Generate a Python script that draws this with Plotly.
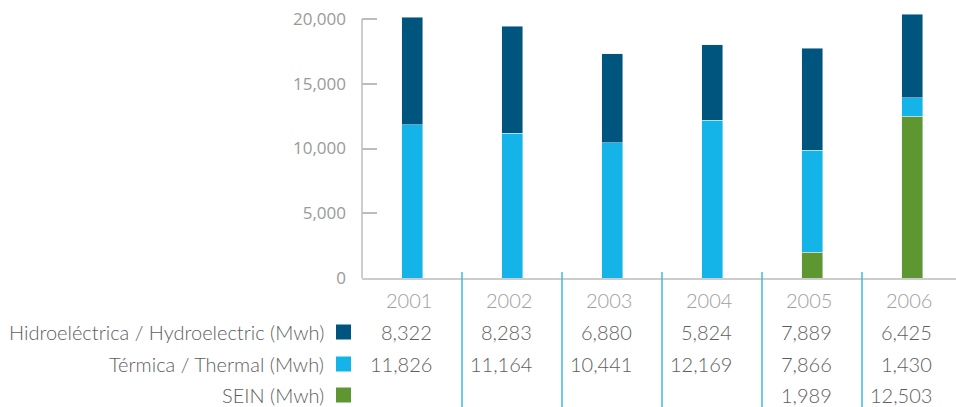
import plotly.graph_objects as go

# Generation by source, MWh
years = ["2001", "2002", "2003", "2004", "2005", "2006"]
hydro = [8322, 8283, 6880, 5824, 7889, 6425]
thermal = [11826, 11164, 10441, 12169, 7866, 1430]
sein = [None, None, None, None, 1989, 12503]

series_names = [
    "Hidroeléctrica / Hydroelectric (Mwh)",
    "Térmica / Thermal (Mwh)",
    "SEIN (Mwh)",
]
y_ticks = [0, 5000, 10000, 15000, 20000]

C_HYDRO = "#00557f"
C_THERMAL = "#14b4e8"
C_SEIN = "#5e9732"
C_SEP = "#3fb8e8"

W, H = 956, 407
L, R = 362, 0
BASE_Y = 278          # pixel row of the zero line
TOP_TICK_Y = 19       # pixel row of the 20,000 tick
T = 11
B = H - BASE_Y
plot_w = W - L - R
plot_h = H - T - B
px_per_unit = (BASE_Y - TOP_TICK_Y) / y_ticks[-1]
y_max = plot_h / px_per_unit


def py(pix):
    """Pixel row -> paper y."""
    return (BASE_Y - pix) / plot_h


def px(pix):
    """Pixel column -> paper x."""
    return (pix - L) / plot_w


fig = go.Figure()
bar_w = 0.21
fig.add_bar(x=years, y=[v if v else 0 for v in sein], marker_color=C_SEIN,
            width=bar_w, name=series_names[2])
fig.add_bar(x=years, y=thermal, marker_color=C_THERMAL, width=bar_w,
            name=series_names[1])
fig.add_bar(x=years, y=hydro, marker_color=C_HYDRO, width=bar_w,
            name=series_names[0])

shapes = []
# y axis line ending at the top tick
shapes.append(dict(type="line", xref="paper", yref="y", x0=0, x1=0,
                   y0=0, y1=y_ticks[-1], line=dict(color="#bdbdbd", width=1.5)))
# column separators running down through the table
for i in range(1, len(years)):
    shapes.append(dict(type="line", xref="x", yref="paper", x0=i - 0.5, x1=i - 0.5,
                       y0=py(272), y1=py(H + 2), line=dict(color=C_SEP, width=1.5)))

row_y = {"year": 300, "hydro": 332, "thermal": 364, "sein": 395}
rows = [("hydro", hydro, C_HYDRO, series_names[0]),
        ("thermal", thermal, C_THERMAL, series_names[1]),
        ("sein", sein, C_SEIN, series_names[2])]

annotations = []
TABLE_FONT = "Lato, 'Open Sans', sans-serif"
FS = 20
for i, yr in enumerate(years):
    annotations.append(dict(x=i, xref="x", y=py(row_y["year"]), yref="paper",
                            text=yr, showarrow=False, xanchor="right", yanchor="middle",
                            xshift=22, font=dict(family=TABLE_FONT, size=FS, weight=300,
                                                 color="#9e9e9e")))

for key, vals, color, label in rows:
    yc = row_y[key]
    annotations.append(dict(x=px(326), xref="paper", y=py(yc), yref="paper",
                            text=label, showarrow=False, xanchor="right", yanchor="middle",
                            font=dict(family=TABLE_FONT, size=FS, weight=300,
                                      color="#5e5e5e")))
    shapes.append(dict(type="rect", xref="paper", yref="paper",
                       x0=px(336), x1=px(351), y0=py(yc - 7.5), y1=py(yc + 7.5),
                       fillcolor=color, line=dict(width=0)))
    for i, v in enumerate(vals):
        if v is None:
            continue
        annotations.append(dict(x=i, xref="x", y=py(yc), yref="paper",
                                text=f"{v:,}", showarrow=False, xanchor="right",
                                yanchor="middle", xshift=22,
                                font=dict(family=TABLE_FONT, size=FS, weight=300,
                                          color="#5e5e5e")))

fig.update_layout(
    width=W, height=H,
    margin=dict(l=L, r=R, t=T, b=B, pad=0),
    barmode="stack",
    showlegend=False,
    plot_bgcolor="white",
    paper_bgcolor="white",
    shapes=shapes,
    annotations=annotations,
    xaxis=dict(type="category", range=[-0.5, -0.5 + plot_w / 100],
               showticklabels=False, ticks="",
               showgrid=False, zeroline=False, showline=True,
               linecolor="#cccccc", linewidth=2, fixedrange=True),
    yaxis=dict(range=[0, y_max], tickvals=y_ticks, tickformat=",d",
               ticks="inside", ticklen=15, tickcolor="#bdbdbd", tickwidth=1.5,
               showgrid=False, zeroline=False, showline=False,
               tickfont=dict(family="'Open Sans', sans-serif", size=17, color="#9a9a9a"),
               ticklabelstandoff=15, fixedrange=True),
)

fig.write_html("out.html", config={"displayModeBar": False})
